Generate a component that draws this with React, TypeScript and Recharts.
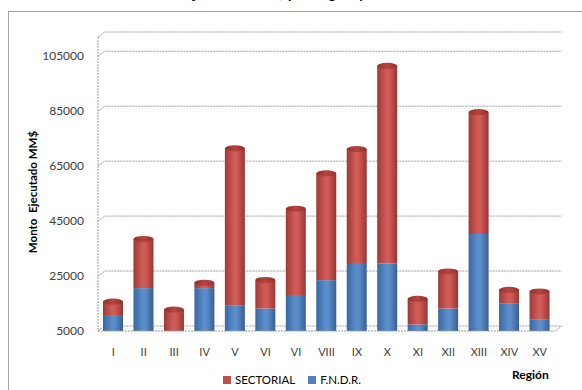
import React from 'react';
import { BarChart, Bar, XAxis, YAxis, CartesianGrid } from 'recharts';

const regions = ['I', 'II', 'III', 'IV', 'V', 'VI', 'VI', 'VIII', 'IX', 'X', 'XI', 'XII', 'XIII', 'XIV', 'XV'];
const fndr = [10800, 20600, 3000, 20600, 14200, 13200, 18100, 23500, 29400, 29600, 7400, 13200, 40300, 15100, 9300];
const sectorial = [4900, 17900, 9800, 2000, 57300, 10400, 31400, 38900, 41800, 71900, 9300, 13500, 44400, 4900, 10100];
const yTicks = [5000, 25000, 45000, 65000, 85000, 105000];
const seriesNames = ['SECTORIAL', 'F.N.D.R.'];
const titleText = 'Gráfico N° 4: Monto Ejecutado MM$ por Región y Sector de Financiamiento';
const yTitle = 'Monto  Ejecutado MM$';
const xTitle = 'Región';

const data = regions.map((r, i) => ({ region: r, fndr: fndr[i], sectorial: sectorial[i] }));

const FONT = 'Lato, "Liberation Sans", Arial, sans-serif';
const W = 582;
const H = 390;
const M = { top: 37, right: 27, bottom: 29, left: 0 };
const X_AXIS_H = 30;
const PLOT_BOTTOM = H - M.bottom - X_AXIS_H;
const DX = 7;
const DY = 5;
const GRID = '#9c9c9c';

const RED = '#C0504D';
const BLUE = '#4F81BD';

function Cylinder(props: any) {
  const { x, y, width, height, background, kind } = props;
  const plotBottom = background && background.height ? background.y + background.height : PLOT_BOTTOM;
  if (width <= 0 || height <= 0) return null;
  const top = Math.max(y, 0);
  const bot = Math.min(y + height, plotBottom);
  if (top >= plotBottom - 0.5) return null;
  const rx = width / 2;
  const ry = 3;
  const cx = x + width / 2;
  const isRed = kind === 'red';
  const body = isRed ? 'url(#gRed)' : 'url(#gBlue)';
  const atBottom = y + height >= plotBottom - 0.5;
  return (
    <g>
      {atBottom && <ellipse cx={cx} cy={bot} rx={rx} ry={ry} fill={body} />}
      <rect x={x} y={top} width={width} height={bot - top} fill={body} />
      {isRed && <ellipse cx={cx} cy={top} rx={rx} ry={ry} fill="url(#gRedTop)" />}
    </g>
  );
}

const gridLine = (p: any) => {
  const { x1, x2, y1 } = p;
  const isBottom = Math.abs(y1 - PLOT_BOTTOM) < 1;
  let d = `M${x1},${y1} L${x1 + DX},${y1 - DY} L${x2 + DX},${y1 - DY}`;
  if (isBottom) d += ` L${x2},${y1}`;
  return <path key={p.key ?? `g-${y1}`} d={d} fill="none" stroke={GRID} strokeWidth={1} strokeDasharray="2 1" />;
};

const YTitle = () => (
  <text
    x={32}
    y={192}
    transform="rotate(-90 32 192)"
    textAnchor="middle"
    dominantBaseline="central"
    fontFamily={FONT}
    fontWeight="bold"
    fontSize={11.5}
    fill="#000"
    style={{ whiteSpace: 'pre' }}
  >
    {yTitle}
  </text>
);

export default function App() {
  return (
    <div style={{ position: 'fixed', left: 0, top: 0, width: W, height: H, overflow: 'hidden', background: '#fff', fontFamily: FONT }}>
      <div
        style={{
          position: 'absolute',
          left: 0,
          width: W,
          top: -13,
          textAlign: 'center',
          fontSize: 14,
          lineHeight: '14px',
          fontWeight: 'bold',
          color: '#000',
          whiteSpace: 'nowrap',
        }}
      >
        {titleText}
      </div>
      <div
        style={{
          position: 'absolute',
          left: 8,
          top: 11,
          width: 700,
          height: 500,
          border: '1px solid #a6a6a6',
        }}
      />
      <div style={{ position: 'absolute', left: 0, top: 0 }}>
        <BarChart width={W} height={H} data={data} margin={M} barSize={20}>
          <defs>
            <linearGradient id="gRed" x1="0" y1="0" x2="1" y2="0">
              <stop offset="0" stopColor="#9E3A37" />
              <stop offset="0.45" stopColor="#D05B57" />
              <stop offset="0.6" stopColor="#CF5A56" />
              <stop offset="1" stopColor="#9A3532" />
            </linearGradient>
            <linearGradient id="gRedTop" x1="0" y1="0" x2="1" y2="0">
              <stop offset="0" stopColor="#93302D" />
              <stop offset="0.5" stopColor="#B6443F" />
              <stop offset="1" stopColor="#93302D" />
            </linearGradient>
            <linearGradient id="gBlue" x1="0" y1="0" x2="1" y2="0">
              <stop offset="0" stopColor="#3A689E" />
              <stop offset="0.45" stopColor="#5A8DCB" />
              <stop offset="0.6" stopColor="#5A8DCA" />
              <stop offset="1" stopColor="#375F92" />
            </linearGradient>
          </defs>
          <CartesianGrid vertical={false} horizontal={gridLine} />
          <XAxis
            dataKey="region"
            height={X_AXIS_H}
            tickLine={false}
            tickSize={6}
            tickMargin={11}
            axisLine={{ stroke: GRID, strokeDasharray: '2 1' }}
            tick={{ fontSize: 11, fill: '#404040', fontFamily: FONT }}
            interval={0}
          />
          <YAxis
            type="number"
            domain={[5000, 112000]}
            allowDataOverflow
            ticks={yTicks}
            width={98}
            tickLine={false}
            tickSize={6}
            tickMargin={8}
            axisLine={{ stroke: GRID, strokeDasharray: '2 1' }}
            tick={{ fontSize: 12, fill: '#404040', fontFamily: FONT }}
            label={<YTitle />}
          />
          <Bar dataKey="fndr" name={seriesNames[1]} stackId="a" fill={BLUE} isAnimationActive={false}
            shape={(p: any) => <Cylinder {...p} kind="blue" />} />
          <Bar dataKey="sectorial" name={seriesNames[0]} stackId="a" fill={RED} isAnimationActive={false}
            shape={(p: any) => <Cylinder {...p} kind="red" />} />
        </BarChart>
      </div>
      <div style={{ position: 'absolute', left: 223, top: 373, display: 'flex', alignItems: 'center', fontSize: 11.5, color: '#000', lineHeight: '14px' }}>
        <span style={{ width: 8, height: 8, background: RED, display: 'inline-block', marginRight: 4 }} />
        <span style={{ marginRight: 13 }}>{seriesNames[0]}</span>
        <span style={{ width: 8, height: 8, background: BLUE, display: 'inline-block', marginRight: 4 }} />
        <span>{seriesNames[1]}</span>
      </div>
      <div style={{ position: 'absolute', left: 512, top: 368, fontSize: 12, fontWeight: 'bold', color: '#000', lineHeight: '14px' }}>
        {xTitle}
      </div>
    </div>
  );
}
